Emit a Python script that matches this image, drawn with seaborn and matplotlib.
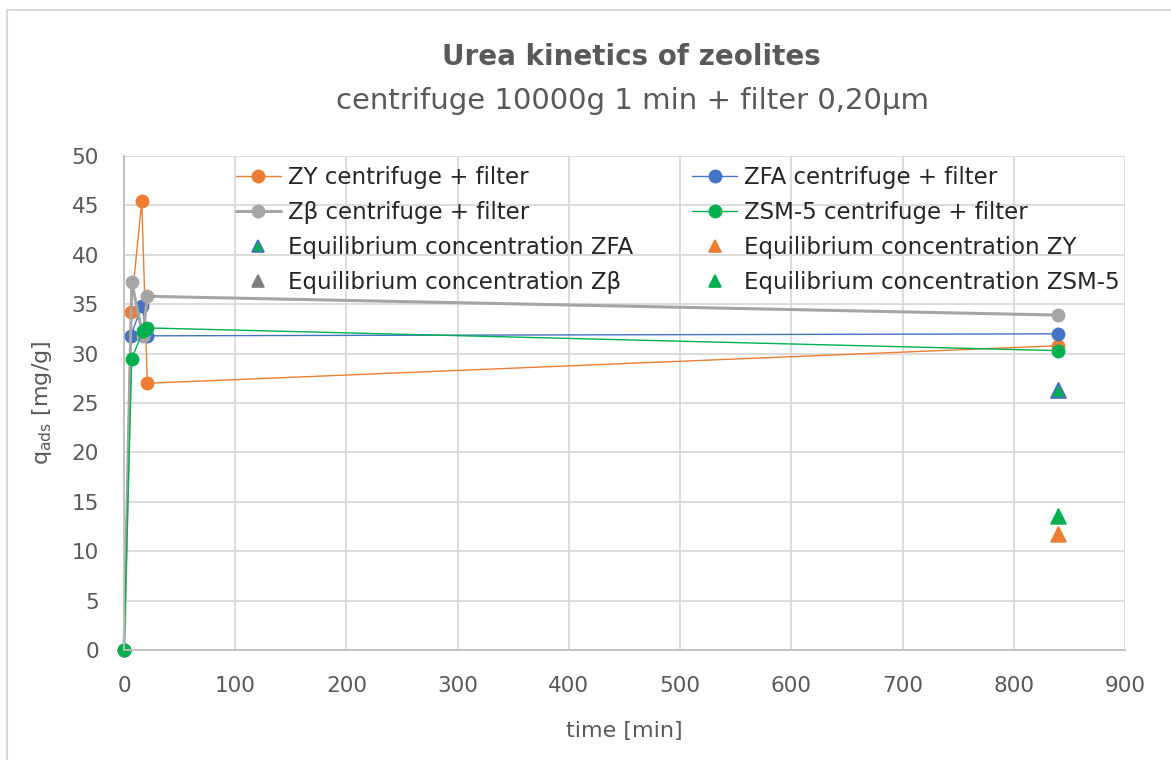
import matplotlib
matplotlib.use("Agg")
import matplotlib.pyplot as plt
import seaborn as sns
import pandas as pd
from matplotlib.lines import Line2D
from matplotlib.patches import Rectangle

# ---- data ----
t_zy = [0, 6, 16, 21, 840]
q_zy = [0, 34.2, 45.4, 27.0, 30.8]
t_zfa = [0, 6, 16, 21, 840]
q_zfa = [0, 31.8, 34.8, 31.8, 32.0]
t_zb = [0, 7, 17, 21, 840]
q_zb = [0, 37.2, 31.8, 35.8, 33.9]
t_zsm = [0, 7, 17, 21, 840]
q_zsm = [0, 29.5, 32.3, 32.6, 30.3]

eq_t = [840]
eq_zb = [26.3]
eq_zfa = [26.3]
eq_zy = [11.7]
eq_zsm = [13.6]

x_ticks = [0, 100, 200, 300, 400, 500, 600, 700, 800, 900]
y_ticks = [0, 5, 10, 15, 20, 25, 30, 35, 40, 45, 50]

ORANGE = "#ED7D31"
BLUE = "#4472C4"
GRAY = "#A5A5A5"
GREEN = "#00B050"
TXT = "#595959"

sns.set_theme(style="white")
plt.rcParams["font.family"] = ["DejaVu Sans"]
plt.rcParams["mathtext.default"] = "regular"

W, H = 1171, 760
fig = plt.figure(figsize=(W / 100, H / 100), dpi=100)
AX_L, AX_R, AX_T, AX_B = 124, 1125, 156, 650
ax = fig.add_axes([AX_L / W, 1 - AX_B / H, (AX_R - AX_L) / W, (AX_B - AX_T) / H])

def line(t, q, color, lw):
    df = pd.DataFrame({"t": t, "q": q})
    sns.lineplot(data=df, x="t", y="q", ax=ax, color=color, linewidth=lw,
                 marker="o", markersize=10, markeredgewidth=0,
                 sort=False, estimator=None)

line(t_zy, q_zy, ORANGE, 1.0)
line(t_zfa, q_zfa, BLUE, 1.0)
line(t_zb, q_zb, GRAY, 2.2)
line(t_zsm, q_zsm, GREEN, 1.0)
for ln in ax.lines:
    ln.set_clip_on(False)

def tri(t, q, face, edge):
    df = pd.DataFrame({"t": t, "q": q})
    sns.scatterplot(data=df, x="t", y="q", ax=ax, marker="^", s=110,
                    color=face, edgecolor=edge, linewidth=1.3, zorder=5)

tri(eq_t, eq_zb, "#7F7F7F", "#7F7F7F")
tri(eq_t, eq_zfa, GREEN, BLUE)
tri(eq_t, eq_zy, ORANGE, ORANGE)
tri(eq_t, eq_zsm, GREEN, GREEN)

ax.set_xlim(0, 900)
ax.set_ylim(0, 50)
ax.set_xticks(x_ticks)
ax.set_yticks(y_ticks)
ax.grid(True, color="#D9D9D9", linewidth=1.3)
ax.set_axisbelow(True)
for s in ["top", "right"]:
    ax.spines[s].set_visible(False)
for s in ["left", "bottom"]:
    ax.spines[s].set_color("#BFBFBF")
    ax.spines[s].set_linewidth(1.3)
ax.tick_params(axis="both", length=0, labelsize=15.5, colors=TXT)
ax.tick_params(axis="x", pad=19)
ax.tick_params(axis="y", pad=18)

ax.set_xlabel("time [min]", fontsize=16, color=TXT)
ax.set_ylabel(r"q$_{ads}$ [mg/g]", fontsize=16, color=TXT)
ax.xaxis.label.set_va("center")
ax.yaxis.label.set_va("center")
ax.xaxis.set_label_coords(0.5, -(731 - AX_B) / (AX_B - AX_T))
ax.yaxis.set_label_coords(-(AX_L - 42) / (AX_R - AX_L), 0.5)

fig.text(631 / W, 1 - 57 / H, "Urea kinetics of zeolites", ha="center", va="center",
         fontsize=20, fontweight="bold", color=TXT)
fig.text(632 / W, 1 - 101 / H, "centrifuge 10000g 1 min + filter 0,20µm", ha="center",
         va="center", fontsize=21, color=TXT)

# legend (column-major order)
def lh(c, lw):
    return Line2D([], [], color=c, lw=lw, marker="o", markersize=10, markeredgewidth=0)

def th(face, edge):
    return Line2D([], [], ls="none", marker="^", markersize=9, markerfacecolor=face,
                  markeredgecolor=edge, markeredgewidth=1.2)

handles = [lh(ORANGE, 1.0), lh(GRAY, 2.2), th(GREEN, BLUE), th("#7F7F7F", "#7F7F7F"),
           lh(BLUE, 1.0), lh(GREEN, 1.0), th(ORANGE, ORANGE), th(GREEN, GREEN)]
labels = ["ZY centrifuge + filter", "Zβ centrifuge + filter",
          "Equilibrium concentration ZFA", "Equilibrium concentration Zβ",
          "ZFA centrifuge + filter", "ZSM-5 centrifuge + filter",
          "Equilibrium concentration ZY", "Equilibrium concentration ZSM-5"]
leg = ax.legend(handles, labels, ncol=2, loc="upper left",
                bbox_to_anchor=((236 - AX_L) / (AX_R - AX_L), 1.0 - 10 / 494),
                frameon=False, fontsize=16.5, handlelength=1.95, handletextpad=0.3,
                columnspacing=2.6, labelspacing=0.52, borderaxespad=0, borderpad=0)
for txt in leg.get_texts():
    txt.set_color("#262626")

fig.patches.append(Rectangle((7 / W, -0.01), 1.0, 1 - 10 / H + 0.01, transform=fig.transFigure,
                             fill=False, edgecolor="#D9D9D9", linewidth=1.5))

fig.savefig("out.png", dpi=100)
